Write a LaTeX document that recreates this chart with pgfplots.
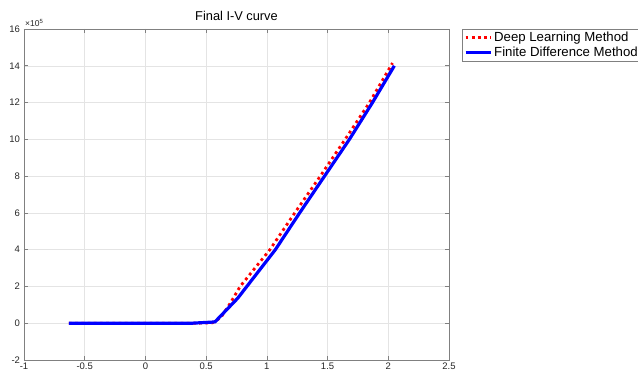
\documentclass[border=0pt]{standalone}
\usepackage{fontspec}
\setmainfont{Liberation Sans}
\usepackage{pgfplots}
\pgfplotsset{compat=1.18}
\definecolor{axgray}{RGB}{128,128,128}
\definecolor{tickgray}{RGB}{38,38,38}
\definecolor{gridgray}{RGB}{228,228,228}
\begin{document}
\begin{tikzpicture}
\path[use as bounding box] (-24pt,-11pt) rectangle (614pt,360pt);
\begin{axis}[
  at={(0pt,0pt)}, anchor=south west,
  scale only axis, width=425pt, height=331pt,
  xmin=-1, xmax=2.5, ymin=-2, ymax=16,
  xtick={-1,-0.5,0,0.5,1,1.5,2,2.5},
  ytick={-2,0,2,4,6,8,10,12,14,16},
  tick align=inside, major tick length=4pt,
  grid=major, major grid style={gridgray, line width=0.5pt},
  axis line style={axgray, line width=0.6pt},
  tick style={axgray, line width=0.6pt},
  ticklabel style={font=\fontsize{9.5}{11}\selectfont, text=tickgray},
  yticklabel style={xshift=-0.5pt},
  xticklabel style={yshift=0.5pt},
  /pgf/number format/assume math mode=true,
  title={Final I-V curve},
  title style={font=\fontsize{12.8}{15}\selectfont, text=black, yshift=-1pt},
  legend style={at={(1.03,1)}, anchor=north west, draw=axgray, line width=0.5pt,
    font=\fontsize{13.2}{16}\selectfont, inner xsep=2pt, inner ysep=1pt,
    cells={anchor=west}},
  legend image code/.code={\draw[#1] (0pt,0pt) -- (25pt,0pt);},
  clip=false,
]
\addplot[red, line width=2.8pt, dash pattern=on 2.8pt off 3.4pt] coordinates {
(-0.63,0) (0.40,0) (0.55,0.02) (0.62,0.3) (0.70,1.1) (0.78,2.0) (1.025,4.0)
(1.23,6.0) (1.44,8.0) (1.645,10.0) (1.845,12.0) (2.035,14.15)
};
\addlegendentry{Deep Learning Method}
\addplot[blue, line width=3.2pt] coordinates {
(-0.63,0) (0.38,0.0) (0.55,0.06) (0.574,0.08) (0.76,1.36) (1.07,4.0)
(1.27,6.0) (1.475,8.0) (1.68,10.0) (1.87,12.0) (2.05,14.0)
};
\addlegendentry{Finite Difference Method}
\node[anchor=south west, inner sep=0pt, text=tickgray, font=\fontsize{8.5}{10}\selectfont]
  at (rel axis cs:0,1) [yshift=2pt, xshift=1pt] {×10\textsuperscript{5}};
\end{axis}
\end{tikzpicture}
\end{document}
